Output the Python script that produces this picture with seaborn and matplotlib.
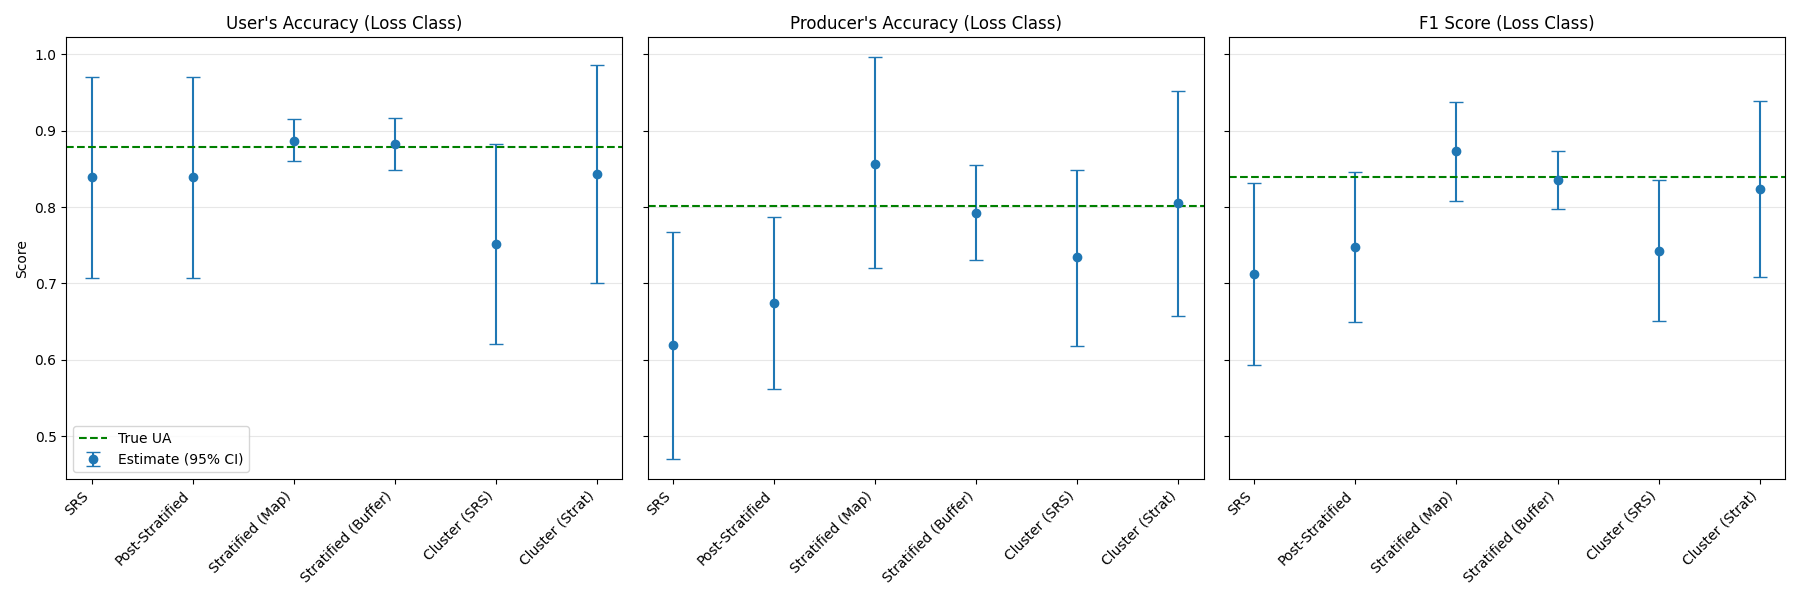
import seaborn as sns
import matplotlib.pyplot as plt
import pandas as pd

methods = ["SRS", "Post-Stratified", "Stratified (Map)", "Stratified (Buffer)",
           "Cluster (SRS)", "Cluster (Strat)"]

# user's accuracy
ua_est = [0.839, 0.839, 0.887, 0.882, 0.751, 0.843]
ua_lo = [0.707, 0.707, 0.860, 0.848, 0.620, 0.700]
ua_hi = [0.970, 0.970, 0.915, 0.917, 0.883, 0.986]
ua_true = 0.878

# producer's accuracy
pa_est = [0.619, 0.674, 0.857, 0.792, 0.734, 0.805]
pa_lo = [0.470, 0.562, 0.720, 0.731, 0.618, 0.657]
pa_hi = [0.767, 0.787, 0.996, 0.855, 0.849, 0.952]
pa_true = 0.802

# f1
f1_est = [0.712, 0.747, 0.873, 0.835, 0.742, 0.823]
f1_lo = [0.593, 0.649, 0.808, 0.797, 0.651, 0.708]
f1_hi = [0.831, 0.846, 0.938, 0.873, 0.835, 0.939]
f1_true = 0.839

panels = [
    ("User's Accuracy (Loss Class)", ua_est, ua_lo, ua_hi, ua_true),
    ("Producer's Accuracy (Loss Class)", pa_est, pa_lo, pa_hi, pa_true),
    ("F1 Score (Loss Class)", f1_est, f1_lo, f1_hi, f1_true),
]

color = sns.color_palette("tab10")[0]

fig, axes = plt.subplots(1, 3, figsize=(18, 6), sharey=True)

for ax, (title, est, lo, hi, true_val) in zip(axes, panels):
    df = pd.DataFrame({"method": methods, "est": est, "lo": lo, "hi": hi})
    x = range(len(df))
    yerr = [df["est"] - df["lo"], df["hi"] - df["est"]]
    ax.errorbar(x, df["est"], yerr=yerr, fmt="o", color=color, capsize=5,
                label="Estimate (95% CI)")
    ax.axhline(true_val, color="green", linestyle="--", label="True UA")
    ax.set_title(title, fontsize=12)
    ax.set_xticks(list(x))
    ax.set_xticklabels(methods, rotation=45, ha="right")
    ax.grid(axis="y", alpha=0.3)

axes[0].set_ylabel("Score")
axes[0].legend(loc="lower left")

plt.tight_layout()
plt.savefig("out.png", dpi=100)
